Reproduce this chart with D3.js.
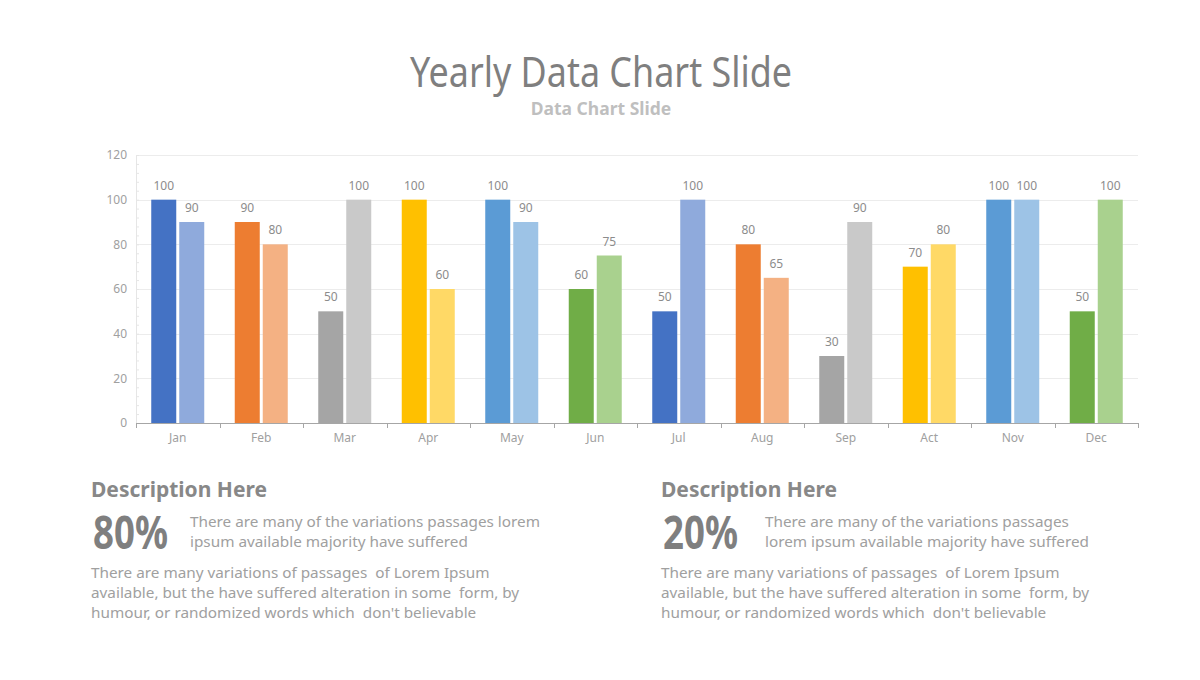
<!DOCTYPE html>
<html>
<head>
<meta charset="utf-8">
<script src="https://cdn.jsdelivr.net/npm/d3@7/dist/d3.min.js"></script>
<style>
  html, body { margin: 0; padding: 0; background: #ffffff; }
  svg { display: block; }
  text { font-family: "Noto Sans", "Open Sans", sans-serif; white-space: pre; }
</style>
</head>
<body>
<svg id="chart" width="1200" height="680"></svg>
<script>
const months = ["Jan","Feb","Mar","Apr","May","Jun","Jul","Aug","Sep","Act","Nov","Dec"];
const series1 = [100, 90, 50, 100, 100, 60, 50, 80, 30, 70, 100, 50];
const series2 = [90, 80, 100, 60, 90, 75, 100, 65, 90, 80, 100, 100];
const darkColors  = ["#4472C4","#ED7D31","#A5A5A5","#FFC000","#5B9BD5","#70AD47","#4472C4","#ED7D31","#A5A5A5","#FFC000","#5B9BD5","#70AD47"];
const lightColors = ["#8FAADC","#F4B183","#C9C9C9","#FFD966","#9DC3E6","#A9D18E","#8FAADC","#F4B183","#C9C9C9","#FFD966","#9DC3E6","#A9D18E"];
const yTicks = [0, 20, 40, 60, 80, 100, 120];
const titleText = "Yearly Data Chart Slide";
const subtitleText = "Data Chart Slide";
const descHeads = ["Description Here", "Description Here"];
const descPercents = ["80%", "20%"];
const descShort = [
  ["There are many of the variations passages lorem", "ipsum available majority have suffered"],
  ["There are many of the variations passages", "lorem ipsum available majority have suffered"]
];
const descLong = [
  ["There are many variations of passages  of Lorem Ipsum", "available, but the have suffered alteration in some  form, by", "humour, or randomized words which  don't believable"],
  ["There are many variations of passages  of Lorem Ipsum", "available, but the have suffered alteration in some  form, by", "humour, or randomized words which  don't believable"]
];

(function () {
const svg = d3.select("#chart");

// Title
svg.append("text").attr("x", 410).attr("y", 87)
  .attr("font-size", 41).attr("fill", "#7f7f7f")
  .attr("textLength", 382).attr("lengthAdjust", "spacingAndGlyphs")
  .text(titleText);
svg.append("text").attr("x", 601).attr("y", 115).attr("text-anchor", "middle")
  .attr("font-size", 17.5).attr("font-weight", "bold").attr("fill", "#bfbfbf")
  .text(subtitleText);

// Plot
const pL = 136, pR = 1138, pT = 155, pB = 423;
const x = d3.scaleBand().domain(months).range([pL, pR]);
const y = d3.scaleLinear().domain([0, 120]).range([pB, pT]);
const barW = 25, gap = 3;
const off = (x.bandwidth() - (2 * barW + gap)) / 2;

// gridlines
svg.append("g").selectAll("line").data(yTicks.filter(d => d > 0)).join("line")
  .attr("x1", pL).attr("x2", pR)
  .attr("y1", d => Math.round(y(d)) + 0.5).attr("y2", d => Math.round(y(d)) + 0.5)
  .attr("stroke", "#ececec").attr("stroke-width", 1);

// faint y axis with minor ticks
const yAxis = d3.axisRight(y).tickValues(d3.range(0, 121, 4)).tickSize(3).tickFormat("");
const yg = svg.append("g").attr("transform", `translate(${pL},0)`).call(yAxis);
yg.selectAll("line, path").attr("stroke", "#e6e6e6");

// y tick labels
svg.append("g").selectAll("text").data(yTicks).join("text")
  .attr("x", 127).attr("y", d => y(d)).attr("dy", "0.35em")
  .attr("text-anchor", "end").attr("font-size", 12).attr("fill", "#a0a0a0")
  .text(d => d);

// bars
const bars = svg.append("g");
bars.selectAll("rect.s1").data(months).join("rect").attr("class", "s1")
  .attr("x", (d) => x(d) + off).attr("width", barW)
  .attr("y", (d, i) => y(series1[i])).attr("height", (d, i) => pB - y(series1[i]))
  .attr("fill", (d, i) => darkColors[i]);
bars.selectAll("rect.s2").data(months).join("rect").attr("class", "s2")
  .attr("x", (d) => x(d) + off + barW + gap).attr("width", barW)
  .attr("y", (d, i) => y(series2[i])).attr("height", (d, i) => pB - y(series2[i]))
  .attr("fill", (d, i) => lightColors[i]);

// labels
const labs = svg.append("g").attr("font-size", 12).attr("fill", "#8c8c8c").attr("text-anchor", "middle");
labs.selectAll("text.l1").data(months).join("text").attr("class", "l1")
  .attr("x", d => x(d) + off + barW / 2)
  .attr("y", (d, i) => y(series1[i]) - 10)
  .text((d, i) => series1[i]);
labs.selectAll("text.l2").data(months).join("text").attr("class", "l2")
  .attr("x", d => x(d) + off + barW + gap + barW / 2)
  .attr("y", (d, i) => y(series2[i]) - 10)
  .text((d, i) => series2[i]);

// x axis
const xg = svg.append("g").attr("transform", `translate(0,${pB})`);
xg.append("line").attr("x1", pL).attr("x2", pR).attr("y1", 0.5).attr("y2", 0.5)
  .attr("stroke", "#a6a6a6").attr("stroke-width", 1);
const bounds = months.map(m => x(m)).concat([pR]);
xg.selectAll("line.t").data(bounds).join("line").attr("class", "t")
  .attr("x1", d => Math.round(d) + 0.5).attr("x2", d => Math.round(d) + 0.5)
  .attr("y1", 0).attr("y2", 5).attr("stroke", "#a6a6a6");
xg.selectAll("text").data(months).join("text")
  .attr("x", d => x(d) + x.bandwidth() / 2).attr("y", 19)
  .attr("text-anchor", "middle").attr("font-size", 12).attr("fill", "#a0a0a0")
  .text(d => d);

// descriptions
const cols = [{x: 91, tx: 190}, {x: 661, tx: 765}];
cols.forEach((c, i) => {
  svg.append("text").attr("x", c.x).attr("y", 497).attr("font-size", 21)
    .attr("font-weight", "bold").attr("fill", "#888888").text(descHeads[i]);
  svg.append("text").attr("x", c.x + 2).attr("y", 549).attr("font-size", 46)
    .attr("font-weight", "bold").attr("fill", "#7f7f7f")
    .attr("textLength", 75).attr("lengthAdjust", "spacingAndGlyphs")
    .text(descPercents[i]);
  descShort[i].forEach((t, k) => {
    svg.append("text").attr("x", c.tx).attr("y", 527 + k * 20).attr("font-size", 15.3)
      .attr("fill", "#a0a0a0").text(t);
  });
  descLong[i].forEach((t, k) => {
    svg.append("text").attr("x", c.x).attr("y", 578 + k * 20).attr("font-size", 15.3)
      .attr("fill", "#a0a0a0").text(t);
  });
});
})();
</script>
</body>
</html>
